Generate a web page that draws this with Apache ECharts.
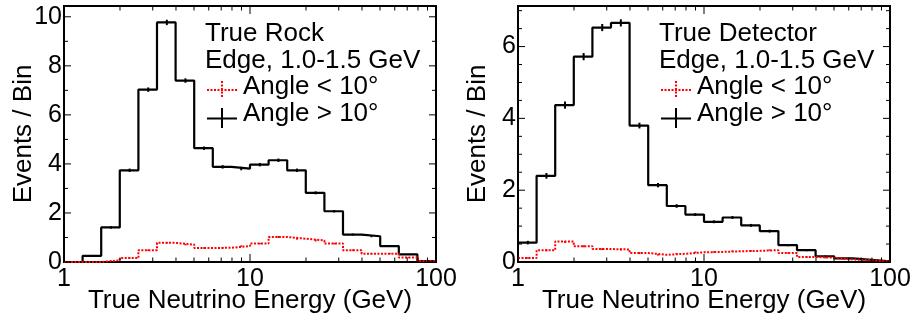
<!DOCTYPE html>
<html>
<head>
<meta charset="utf-8">
<script src="https://cdn.jsdelivr.net/npm/echarts@6/dist/echarts.min.js"></script>
<style>
  html, body { margin: 0; padding: 0; background: #fff; }
  #chart { width: 915px; height: 320px; }
</style>
</head>
<body>
<div id="chart"></div>
<script>
// Log-spaced bin edges (10 bins per decade), GeV
const binEdges = [1, 1.259, 1.585, 1.995, 2.512, 3.162, 3.981, 5.012, 6.310, 7.943,
                  10, 12.59, 15.85, 19.95, 25.12, 31.62, 39.81, 50.12, 63.10, 79.43, 100];

// True Rock sample
const rockAbove    = [0, 0.25, 1.41, 3.74, 7.03, 9.77, 7.40, 4.64, 3.88, 3.81,
                      3.97, 4.15, 3.74, 2.82, 2.07, 1.12, 1.05, 0.65, 0.31, 0.04];
const rockAboveErr = [0, 0.03, 0.05, 0.07, 0.09, 0.11, 0.09, 0.07, 0.07, 0.07,
                      0.07, 0.07, 0.07, 0.06, 0.05, 0.04, 0.04, 0.03, 0.02, 0.01];
const rockBelow    = [0, 0, 0.07, 0.16, 0.48, 0.78, 0.71, 0.57, 0.58, 0.65,
                      0.75, 1.02, 0.95, 0.88, 0.75, 0.48, 0.34, 0.34, 0.18, 0.04];
const rockBelowErr = [0, 0, 0.01, 0.02, 0.03, 0.03, 0.03, 0.03, 0.03, 0.03,
                      0.03, 0.04, 0.04, 0.04, 0.03, 0.03, 0.02, 0.02, 0.02, 0.01];

// True Detector sample
const detAbove     = [0.54, 2.40, 4.37, 5.72, 6.53, 6.66, 3.80, 2.14, 1.56, 1.32,
                      1.12, 1.24, 1.02, 0.86, 0.47, 0.33, 0.16, 0.10, 0.06, 0.02];
const detAboveErr  = [0.05, 0.08, 0.10, 0.10, 0.10, 0.10, 0.08, 0.06, 0.05, 0.04,
                      0.04, 0.04, 0.04, 0.04, 0.03, 0.03, 0.02, 0.02, 0.01, 0.01];
const detBelow     = [0.11, 0.33, 0.57, 0.44, 0.36, 0.35, 0.25, 0.20, 0.23, 0.27,
                      0.28, 0.30, 0.31, 0.33, 0.25, 0.14, 0.12, 0.07, 0.05, 0.02];
const detBelowErr  = [0.02, 0.03, 0.04, 0.03, 0.03, 0.03, 0.03, 0.02, 0.02, 0.02,
                      0.02, 0.02, 0.02, 0.02, 0.02, 0.02, 0.02, 0.01, 0.01, 0.01];

// Axis ranges and tick positions
const xRange = [1, 100];
const xMajorTicks = [1, 10, 100];
const xMinorTicks = [2, 3, 4, 5, 6, 7, 8, 9, 20, 30, 40, 50, 60, 70, 80, 90];
const rockYMax = 10.44;
const rockYMajor = [0, 2, 4, 6, 8, 10];
const rockYMinor = [1, 3, 5, 7, 9];
const detYMax = 7.13;
const detYMajor = [0, 2, 4, 6];
const detYMinor = [0.5, 1, 1.5, 2.5, 3, 3.5, 4.5, 5, 5.5, 6.5, 7];

const FONT = '"Liberation Sans", Arial, Helvetica, sans-serif';
const RED = '#ff0000';

// Step outline: one point per left edge, plus the final right edge
function stepData(vals) {
  return binEdges.map((e, i) => [e, vals[Math.min(i, vals.length - 1)]]);
}
// Error bars at the bin centres
function errData(vals, errs) {
  return vals.map((v, i) => [(binEdges[i] + binEdges[i + 1]) / 2, v, errs[i]]);
}

function histSeries(idx, vals, color, dotted) {
  return {
    type: 'line', xAxisIndex: idx, yAxisIndex: idx,
    step: 'end', symbol: 'none', silent: true, animation: false,
    data: stepData(vals),
    lineStyle: { color: color, width: dotted ? 2 : 2.2, type: dotted ? [2, 1.5] : 'solid' },
    z: dotted ? 4 : 3
  };
}

function errSeries(idx, vals, errs, color, dotted) {
  return {
    type: 'custom', xAxisIndex: idx, yAxisIndex: idx, silent: true, animation: false,
    data: errData(vals, errs), clip: false, z: dotted ? 5 : 3,
    renderItem: function (params, api) {
      const x = api.value(0), y = api.value(1), e = api.value(2);
      if (!(e > 0)) return null;
      const lo = api.coord([x, y - e]);
      const hi = api.coord([x, y + e]);
      return {
        type: 'line',
        shape: { x1: lo[0], y1: lo[1], x2: hi[0], y2: hi[1] },
        style: { stroke: color, lineWidth: 2, lineDash: dotted ? [2, 1.5] : null }
      };
    }
  };
}

// Inside tick marks on all four sides of a frame
function tickSeries(idx, yMajor, yMinor) {
  const data = [];
  xMajorTicks.forEach(v => data.push([v, 0, 0]));
  xMinorTicks.forEach(v => data.push([v, 0, 1]));
  yMajor.forEach(v => data.push([xRange[0], v, 2]));
  yMinor.forEach(v => data.push([xRange[0], v, 3]));
  function seg(x1, y1, x2, y2) {
    return { type: 'line', shape: { x1, y1, x2, y2 }, style: { stroke: '#000', lineWidth: 1 } };
  }
  return {
    type: 'custom', xAxisIndex: idx, yAxisIndex: idx, silent: true, animation: false,
    clip: false, z: 10, data: data,
    renderItem: function (params, api) {
      const cs = params.coordSys;
      const kind = api.value(2);
      const p = api.coord([api.value(0), api.value(1)]);
      const top = cs.y, bottom = cs.y + cs.height, left = cs.x, right = cs.x + cs.width;
      if (kind < 2) {
        const L = kind === 0 ? 8 : 4.5;
        return { type: 'group', children: [seg(p[0], bottom, p[0], bottom - L), seg(p[0], top, p[0], top + L)] };
      }
      const L = kind === 2 ? 7 : 4;
      return { type: 'group', children: [seg(left, p[1], left + L, p[1]), seg(right, p[1], right - L, p[1])] };
    }
  };
}

function xAxisCfg(idx) {
  return {
    type: 'log', logBase: 10, gridIndex: idx, min: xRange[0], max: xRange[1],
    axisLine: { show: false }, axisTick: { show: false }, splitLine: { show: false },
    minorTick: { show: false },
    axisLabel: { color: '#000', fontSize: 25, fontFamily: FONT, margin: 5 },
    name: 'True Neutrino Energy (GeV)', nameLocation: 'middle', nameGap: 26,
    nameMoveOverlap: false,
    nameTextStyle: { color: '#000', fontSize: 26, fontFamily: FONT }
  };
}

function yAxisCfg(idx, max) {
  return {
    type: 'value', gridIndex: idx, min: 0, max: max, interval: 2,
    axisLine: { show: false }, axisTick: { show: false }, splitLine: { show: false },
    axisLabel: { color: '#000', fontSize: 25, fontFamily: FONT, margin: 2, showMaxLabel: false,
                 padding: [3, 0, 0, 0] },
    name: 'Events / Bin', nameLocation: 'middle', nameGap: 27,
    nameMoveOverlap: false,
    nameTextStyle: { color: '#000', fontSize: 26, fontFamily: FONT }
  };
}

function legendBlock(x0, title) {
  const tx = x0, sx0 = x0 + 2, sx1 = x0 + 32, sxm = x0 + 17, lx = x0 + 38;
  const txt = (text, x, y) => ({
    type: 'text', x: x, y: y, silent: true,
    style: { text: text, fill: '#000', fontSize: 26, fontFamily: FONT, verticalAlign: 'middle' }
  });
  const ln = (x1, y1, x2, y2, color, dotted) => ({
    type: 'line', silent: true,
    shape: { x1, y1, x2, y2 },
    style: { stroke: color, lineWidth: 2, lineDash: dotted ? [2, 1.5] : null }
  });
  return [
    txt(title, tx, 34),
    txt('Edge, 1.0-1.5 GeV', tx, 60.5),
    ln(sx0, 90, sx1, 90, RED, true),
    ln(sxm, 81, sxm, 98, RED, true),
    txt('Angle < 10\u00B0', lx, 86.5),
    ln(sx0, 118.5, sx1, 118.5, '#000', false),
    ln(sxm, 108, sxm, 128, '#000', false),
    txt('Angle > 10\u00B0', lx, 114)
  ];
}

const chart = echarts.init(document.getElementById('chart'), null, { renderer: 'canvas' });
chart.setOption({
  animation: false,
  backgroundColor: '#fff',
  grid: [
    { left: 64, top: 6, width: 372, height: 256, show: true, borderColor: '#000', borderWidth: 2,
      backgroundColor: 'transparent', containLabel: false },
    { left: 518, top: 6, width: 372, height: 256, show: true, borderColor: '#000', borderWidth: 2,
      backgroundColor: 'transparent', containLabel: false }
  ],
  xAxis: [xAxisCfg(0), xAxisCfg(1)],
  yAxis: [yAxisCfg(0, rockYMax), yAxisCfg(1, detYMax)],
  series: [
    histSeries(0, rockAbove, '#000', false),
    errSeries(0, rockAbove, rockAboveErr, '#000', false),
    histSeries(0, rockBelow, RED, true),
    errSeries(0, rockBelow, rockBelowErr, RED, true),
    tickSeries(0, rockYMajor, rockYMinor),
    histSeries(1, detAbove, '#000', false),
    errSeries(1, detAbove, detAboveErr, '#000', false),
    histSeries(1, detBelow, RED, true),
    errSeries(1, detBelow, detBelowErr, RED, true),
    tickSeries(1, detYMajor, detYMinor)
  ],
  graphic: { elements: legendBlock(205, 'True Rock').concat(legendBlock(659, 'True Detector')) }
});
</script>
</body>
</html>
